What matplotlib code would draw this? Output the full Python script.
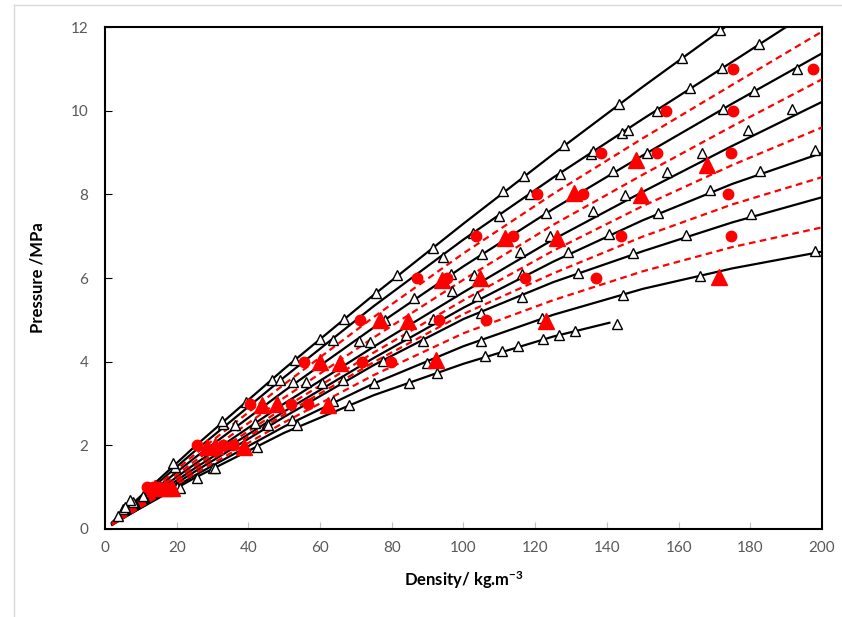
import matplotlib
matplotlib.use("Agg")
import matplotlib.pyplot as plt
from matplotlib.lines import Line2D

# ---- model isotherms (black solid) : density vs pressure ----
x_grid = [2, 25, 50, 75, 100, 125, 150, 175, 200]

iso1_x = [2, 25, 50, 75, 100, 125, 150, 173]
iso1_p = [0.16, 1.97, 3.83, 5.60, 7.30, 8.96, 10.57, 12.0]
iso2_x = [2, 25, 50, 75, 100, 125, 150, 175, 190]
iso2_p = [0.15, 1.86, 3.63, 5.33, 6.92, 8.40, 9.80, 11.17, 12.0]
iso4_p = [0.14, 1.70, 3.30, 4.82, 6.28, 7.65, 8.93, 10.17, 11.37]
iso6_p = [0.13, 1.55, 3.00, 4.36, 5.66, 6.92, 8.06, 9.16, 10.21]
iso8_p = [0.12, 1.45, 2.81, 4.09, 5.29, 6.39, 7.38, 8.25, 8.99]
iso10_p = [0.11, 1.37, 2.68, 3.92, 5.02, 5.90, 6.64, 7.33, 7.93]
iso12_p = [0.10, 1.28, 2.45, 3.48, 4.37, 5.12, 5.74, 6.23, 6.63]
iso13_x = [2, 25, 50, 75, 100, 125, 140.7]
iso13_p = [0.12, 1.22, 2.30, 3.20, 3.95, 4.60, 4.93]

# ---- model isotherms (red dashed) ----
red3_p = [0.14, 1.78, 3.46, 5.07, 6.59, 8.01, 9.34, 10.62, 11.89]
red5_p = [0.13, 1.62, 3.14, 4.58, 5.96, 7.27, 8.47, 9.63, 10.75]
red7_p = [0.12, 1.50, 2.90, 4.22, 5.47, 6.65, 7.72, 8.70, 9.60]
red9_p = [0.11, 1.41, 2.74, 3.99, 5.14, 6.11, 6.99, 7.76, 8.41]
red11_p = [0.10, 1.32, 2.55, 3.68, 4.68, 5.47, 6.16, 6.74, 7.21]

# ---- literature data (open triangles) ----
lit_x = [5.1, 7.9, 19.5, 33, 39.3, 46.5, 53, 59.9, 66.8, 75.5, 81.5, 91.4, 111.1, 116.8,
         128.1, 143.3, 161, 171.5,
         48.8, 63.7, 94.4, 102.7, 110, 118.5, 126.9, 135.5, 136.2, 144.3, 145.8, 154.1,
         163.2, 172.2, 182.5,
         192.9, 181.1, 172.5, 151.3, 141.8, 122.9, 105.1, 96.5, 86.3,
         191.5, 179.4, 166.4, 156.7, 145, 136, 124.1, 115.8, 103, 96.7,
         198, 182.7, 168.8, 154.3, 140.7, 129.2, 103.9, 116.2,
         180.1, 162.2, 147.4, 132, 116.2, 104.8,
         198, 166, 144.4, 121.8, 104.8,
         106, 110.6, 115.3, 122.3, 126.7, 131.1, 142.9,
         91.4, 78.1, 84, 70.9, 73.9, 88.8, 77.6, 89.7,
         52.5, 56.1, 60.4, 66.5, 75, 84.8, 92.5, 63.7, 68.1,
         36.3, 41.8, 45.1, 52.1, 53.5, 42.3, 30.2, 20,
         7, 5.6, 32.5, 19, 20.9, 25.6, 30.7, 45.5, 3.5, 10.5, 14]
lit_p = [0.47, 0.65, 1.49, 2.51, 3.04, 3.56, 4.04, 4.54, 5.02, 5.63, 6.06, 6.71, 8.07, 8.43,
         9.17, 10.17, 11.26, 11.92,
         3.55, 4.52, 6.5, 7.07, 7.48, 8.0, 8.49, 8.97, 9.04, 9.47, 9.53, 9.99,
         10.53, 11.03, 11.6,
         11.0, 10.47, 10.05, 8.99, 8.56, 7.55, 6.57, 6.09, 5.52,
         10.05, 9.53, 8.99, 8.53, 7.98, 7.59, 7.0, 6.63, 6.07, 5.7,
         9.05, 8.56, 8.1, 7.56, 7.05, 6.63, 5.57, 6.1,
         7.52, 7.03, 6.59, 6.11, 5.55, 5.16,
         6.65, 6.05, 5.59, 5.04, 4.5,
         4.14, 4.26, 4.37, 4.54, 4.64, 4.73, 4.9,
         5.02, 5.0, 4.64, 4.5, 4.48, 4.5, 4.02, 3.98,
         3.52, 3.52, 3.5, 3.55, 3.5, 3.48, 3.72, 3.07, 2.96,
         2.49, 2.53, 2.52, 2.61, 2.49, 1.97, 1.45, 1.01,
         0.69, 0.53, 2.57, 1.57, 0.97, 1.21, 1.45, 2.49, 0.3, 0.8, 1.05]

# ---- this work (red) ----
circ_x = [11.6, 13.3, 15, 25.8, 33, 35.8, 40.4, 51.8, 56.7, 55.5, 71.6, 79.7,
          71.1, 93.3, 106.3, 86.9, 95.3, 117.2, 136.9, 103.5, 113.7, 143.8, 174.5,
          120.6, 133.4, 173.9, 138.3, 153.9, 174.5, 156.5, 175.1, 175.3, 197.6]
circ_p = [1, 1, 1, 2, 2, 2, 3, 3, 3, 4, 4, 4,
          5, 5, 5, 6, 6, 6, 6, 7, 7, 7, 7,
          8, 8, 8, 9, 9, 9, 10, 10, 11, 11]
rtri_x = [14, 16.7, 18.6, 28.4, 30.7, 38.8, 43.8, 47.9, 62.3, 60, 65.5, 92.2,
          76.6, 84.6, 123, 93.9, 104.6, 171.3, 111.6, 126.2, 130.8, 149.4, 148, 168]
rtri_p = [0.98, 0.98, 0.97, 1.97, 1.98, 1.96, 2.97, 2.98, 2.97, 4.0, 3.98, 4.04,
          5.0, 4.97, 4.98, 5.96, 5.99, 6.03, 6.95, 6.95, 8.02, 7.98, 8.82, 8.7]

x_ticks = [0, 20, 40, 60, 80, 100, 120, 140, 160, 180, 200]
y_ticks = [0, 2, 4, 6, 8, 10, 12]

plt.rcParams['font.family'] = ['Lato', 'DejaVu Sans']
plt.rcParams['mathtext.default'] = 'regular'

fig = plt.figure(figsize=(8.42, 6.17), dpi=100)
ax = fig.add_axes([105 / 842, 1 - 529 / 617, 717 / 842, 502 / 617])

black_lines = [(iso1_x, iso1_p), (iso2_x, iso2_p), (x_grid, iso4_p), (x_grid, iso6_p),
               (x_grid, iso8_p), (x_grid, iso10_p), (x_grid, iso12_p), (iso13_x, iso13_p)]
for xs, ps in black_lines:
    ax.plot(xs, ps, color='black', lw=1.6, zorder=2, solid_joinstyle='round')
for ps in [red3_p, red5_p, red7_p, red9_p, red11_p]:
    ax.plot(x_grid, ps, color='#ff0000', lw=1.6, ls=(0, (3, 2)), zorder=3)

ax.plot(lit_x, lit_p, ls='none', marker='^', ms=7, mfc='white', mec='black', mew=1.0, zorder=4)
ax.plot(circ_x, circ_p, ls='none', marker='o', ms=7.5, mfc='#ff0000', mec='#ff0000', zorder=5)
ax.plot(rtri_x, rtri_p, ls='none', marker='^', ms=11, mfc='#ff0000', mec='#ff0000', zorder=5)

ax.set_xlim(0, 200)
ax.set_ylim(0, 12)
ax.set_xticks(x_ticks)
ax.set_yticks(y_ticks)
ax.tick_params(axis='x', direction='in', length=5, color='#bfbfbf', labelcolor='#595959',
               labelsize=11, pad=9)
ax.tick_params(axis='y', direction='in', length=5, color='black', labelcolor='#595959',
               labelsize=11, pad=12)
for s in ax.spines.values():
    s.set_linewidth(1.5)
    s.set_color('black')

ax.set_xlabel('Density/ kg.m$^{-3}$', fontsize=12, fontweight='bold', labelpad=10)
ax.set_ylabel('Pressure /MPa', fontsize=12, fontweight='bold', labelpad=18)

# light chart-area frame
fig.add_artist(Line2D([14 / 842, 14 / 842], [0, 1 - 5 / 617], color='#d9d9d9', lw=1))
fig.add_artist(Line2D([14 / 842, 1], [1 - 5 / 617, 1 - 5 / 617], color='#d9d9d9', lw=1))

fig.savefig('out.png', dpi=100)
